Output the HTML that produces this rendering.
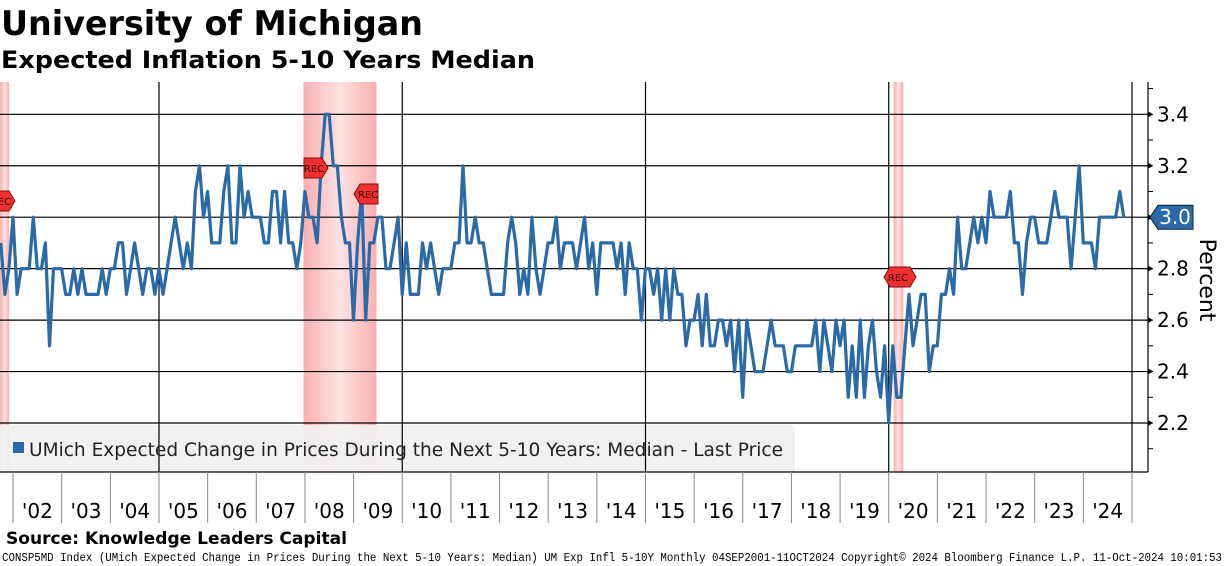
<!DOCTYPE html>
<html><head><meta charset="utf-8"><style>
html,body{margin:0;padding:0;background:#fff;}
svg{display:block;font-family:"DejaVu Sans","Liberation Sans",sans-serif;}
</style></head><body>
<svg id="chart" width="1224" height="566" viewBox="0 0 1224 566" xmlns="http://www.w3.org/2000/svg">
<defs>
<linearGradient id="recg" x1="0" x2="1" y1="0" y2="0">
<stop offset="0" stop-color="#f9b0b0"/><stop offset="0.5" stop-color="#fde2e2"/><stop offset="1" stop-color="#f9b0b0"/>
</linearGradient>
</defs>
<text x="1" y="35" font-size="34" font-weight="bold" textLength="422" lengthAdjust="spacingAndGlyphs">University of Michigan</text>
<text x="1" y="68" font-size="24" font-weight="bold" textLength="534" lengthAdjust="spacingAndGlyphs">Expected Inflation 5-10 Years Median</text>
<g id="rec"></g>
<g id="grid"></g>
<rect x="0" y="425" width="795" height="47" fill="#f0f0f0" opacity="0.92"/>
<g id="vgrid"></g>
<g id="series"></g>
<g id="marks"></g>
<g id="axes"></g>
<rect x="13" y="442" width="11" height="11" fill="#2a6aa8"/>
<text x="29" y="456" font-size="19" fill="#222" textLength="754" lengthAdjust="spacingAndGlyphs">UMich Expected Change in Prices During the Next 5-10 Years: Median - Last Price</text>
<text transform="translate(1200,280) rotate(90)" font-size="22" text-anchor="middle">Percent</text>
<text x="6" y="544" font-size="17" font-weight="bold" textLength="341" lengthAdjust="spacingAndGlyphs">Source: Knowledge Leaders Capital</text>
<text x="2" y="561" font-size="12" font-family="Liberation Mono, monospace" textLength="1220" lengthAdjust="spacingAndGlyphs">CONSP5MD Index (UMich Expected Change in Prices During the Next 5-10 Years: Median) UM Exp Infl 5-10Y  Monthly 04SEP2001-11OCT2024 Copyright© 2024 Bloomberg Finance L.P.  11-Oct-2024 10:01:53</text>
</svg>
<script>
const values = [2.9,2.7,2.8,3.0,2.7,2.8,2.8,2.8,3.0,2.8,2.8,2.9,2.5,2.8,2.8,2.8,2.7,2.7,2.8,2.7,2.8,2.7,2.7,2.7,2.7,2.8,2.7,2.8,2.8,2.9,2.9,2.7,2.8,2.9,2.8,2.7,2.8,2.8,2.7,2.8,2.7,2.8,2.9,3.0,2.9,2.8,2.9,2.8,3.1,3.2,
3.0,3.1,2.9,2.9,2.9,3.1,3.2,2.9,2.9,3.2,3.0,3.1,3.0,3.0,3.0,2.9,2.9,3.1,3.1,2.9,3.1,2.9,2.9,2.8,2.9,3.1,3.0,3.0,2.9,3.2,3.4,3.4,3.2,3.2,3.0,2.9,2.9,2.6,2.9,3.1,2.6,2.9,2.9,3.0,3.0,2.8,2.8,2.9,3.0,2.7,
2.9,2.7,2.7,2.7,2.9,2.8,2.9,2.8,2.7,2.8,2.8,2.8,2.9,2.9,3.2,2.9,2.9,3.0,2.9,2.9,2.8,2.7,2.7,2.7,2.7,2.9,3.0,2.9,2.7,2.8,2.7,3.0,2.8,2.7,2.8,2.9,2.9,3.0,2.8,2.9,2.9,2.9,2.8,2.9,3.0,2.8,2.9,2.7,2.9,2.9,2.9,2.9,2.8,2.9,2.7,2.9,2.8,2.8,2.6,2.8,2.8,
2.7,2.8,2.6,2.8,2.6,2.8,2.7,2.7,2.5,2.6,2.6,2.7,2.5,2.7,2.5,2.5,2.6,2.6,2.5,2.6,2.4,2.6,2.3,2.6,2.5,2.4,2.4,2.4,2.5,2.6,2.5,2.5,2.5,2.4,2.4,2.5,2.5,2.5,2.5,2.5,2.6,2.4,2.6,2.5,2.4,2.6,2.5,2.6,2.3,2.5,2.3,2.6,2.3,2.5,2.6,2.4,2.3,2.5,
2.2,2.5,2.3,2.3,2.5,2.7,2.5,2.6,2.7,2.7,2.4,2.5,2.5,2.7,2.7,2.8,2.7,3.0,2.8,2.8,2.9,3.0,2.9,3.0,2.9,3.1,3.0,3.0,3.0,3.0,3.1,2.9,2.9,2.7,2.9,3.0,3.0,2.9,2.9,2.9,3.0,3.1,3.0,3.0,3.0,2.8,3.0,3.2,2.9,2.9,2.9,2.8,3.0,3.0,3.0,3.0,3.0,3.1,3.0];
const yTicks = [2.2,2.4,2.6,2.8,3.0,3.2,3.4];
const yearLabels = ["'02","'03","'04","'05","'06","'07","'08","'09","'10","'11","'12","'13","'14","'15","'16","'17","'18","'19","'20","'21","'22","'23","'24"];
const recessions = [[2001.17,2001.92],[2007.97,2009.47],[2020.1,2020.3]];
const startYear = 2001 + 8/12; // Sep 2001

const NS="http://www.w3.org/2000/svg";
function yS(v){return 423 - (v-2.2)/1.2*(423-114.3);}
function xT(t){return 159 + (t-2005)*48.65;}
function xI(i){return xT(startYear + i/12) + 4;}
function mk(tag,attrs,parent){const e=document.createElementNS(NS,tag);for(const k in attrs)e.setAttribute(k,attrs[k]);parent.appendChild(e);return e;}

const rec=document.getElementById('rec');
recessions.forEach(r=>{
  const x0=Math.max(0,xT(r[0])), x1=xT(r[1]);
  const e=mk('rect',{x:x0,y:82,width:x1-x0,height:390,fill:'url(#recg)'},rec);
  
  
});
const grid=document.getElementById('grid');
yTicks.forEach(v=>{
  const e=mk('line',{x1:0,x2:1148,y1:yS(v),y2:yS(v),stroke:'#000','stroke-width':1.2},grid);
  
  
});
const vg=document.getElementById('vgrid');
[2005,2010,2015,2020,2025].forEach(y=>{
  const e=mk('line',{x1:xT(y),x2:xT(y),y1:82,y2:472,stroke:'#000','stroke-width':1.2},vg);
  
  
});
const pts=values.map((v,i)=>xI(i).toFixed(1)+','+yS(v).toFixed(1)).join(' ');
const line=mk('polyline',{points:pts,fill:'none',stroke:'#2a6aa8','stroke-width':3.2,'stroke-linejoin':'round'},document.getElementById('series'));



const ax=document.getElementById('axes');
mk('line',{x1:1148,x2:1148,y1:82,y2:472,stroke:'#000','stroke-width':1.2},ax);
mk('line',{x1:0,x2:1148,y1:472,y2:472,stroke:'#000','stroke-width':1.2},ax);
for(let v=2.1;v<=3.51;v+=0.1){
  mk('line',{x1:1148,x2:1153,y1:yS(v),y2:yS(v),stroke:'#000','stroke-width':1},ax);
}
yTicks.forEach(v=>{
  mk('path',{d:`M1148 ${yS(v)-3}L1153 ${yS(v)}L1148 ${yS(v)+3}Z`,fill:'#000'},ax);
  const t=mk('text',{x:1157,y:yS(v)+7,'font-size':20},ax);
  t.textContent=v.toFixed(1);
  
  
});
yearLabels.forEach((lab,i)=>{
  const y0=2002+i;
  mk('line',{x1:xT(y0),x2:xT(y0),y1:472,y2:523,stroke:'#888','stroke-width':1},ax);
  const t=mk('text',{x:xT(y0+0.5),y:518,'font-size':20,'text-anchor':'middle'},ax);
  t.textContent=lab;
  
  
});
mk('line',{x1:xT(2025),x2:xT(2025),y1:472,y2:523,stroke:'#888','stroke-width':1},ax);

// last price tag
const lv=values[values.length-1], ly=yS(lv);
const tag=mk('path',{d:`M1150 ${ly}L1158 ${ly-12}L1193 ${ly-12}L1193 ${ly+12}L1158 ${ly+12}Z`,fill:'#2a6aa8',stroke:'#123',"stroke-width":1},ax);


const lt=mk('text',{x:1175,y:ly+7,'font-size':20,fill:'#fff','text-anchor':'middle'},ax);
lt.textContent=lv.toFixed(1);



// REC markers
const marks=document.getElementById('marks');
[[1,201,1],[314,168,1],[368,194,-1],[898,277,0]].forEach(m=>{
  const [cx,cy,dir]=m;
  let d;
  if(dir===1) d=`M${cx-10} ${cy-10}L${cx+8} ${cy-10}L${cx+14} ${cy}L${cx+8} ${cy+10}L${cx-10} ${cy+10}Z`;
  else if(dir===-1) d=`M${cx+10} ${cy-10}L${cx-8} ${cy-10}L${cx-14} ${cy}L${cx-8} ${cy+10}L${cx+10} ${cy+10}Z`;
  else d=`M${cx-14} ${cy}L${cx-8} ${cy-10}L${cx+12} ${cy-10}L${cx+18} ${cy}L${cx+12} ${cy+10}L${cx-8} ${cy+10}Z`;
  const p=mk('path',{d:d,fill:'#f03030',stroke:'#7a1010','stroke-width':1},marks);
  
  
  const t=mk('text',{x:cx,y:cy+4,'font-size':10,'text-anchor':'middle',fill:'#300'},marks);
  t.textContent='REC';
});
</script>
</body></html>
